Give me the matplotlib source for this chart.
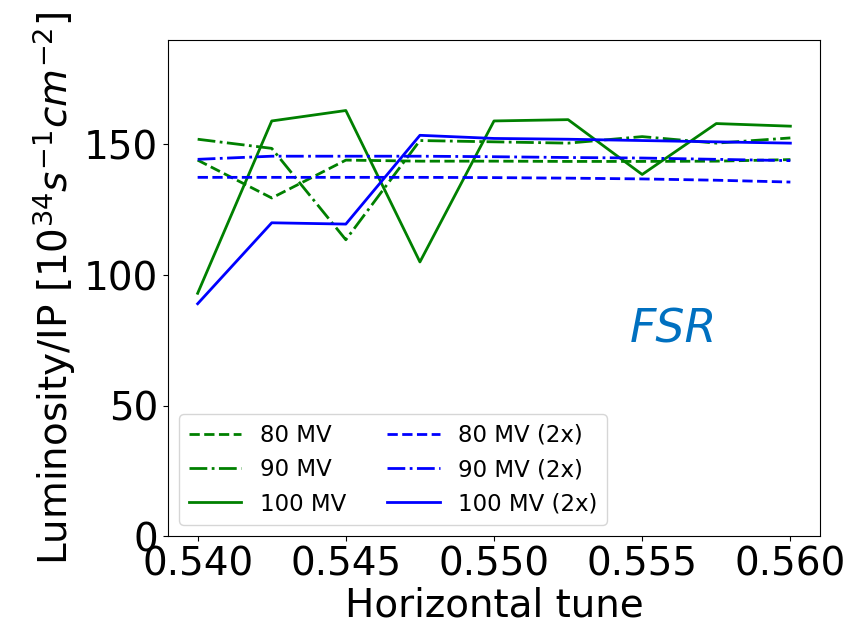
import numpy as np
import matplotlib.pyplot as plt

# tune scan
tune = [0.540, 0.5425, 0.545, 0.5475, 0.550, 0.5525, 0.555, 0.5575, 0.560]

# luminosity per IP [1e34 s^-1 cm^-2]
lumi_80 = [144, 129.5, 144, 143.6, 143.6, 143.5, 143.5, 143.6, 144.2]
lumi_90 = [152, 148.5, 113.5, 151.5, 151, 150.5, 153, 150.5, 152.5]
lumi_100 = [93, 159, 163, 105, 159, 159.5, 138.5, 158, 157]
lumi_80_2x = [137.4, 137.4, 137.4, 137.4, 137.3, 137.1, 136.8, 136.3, 135.6]
lumi_90_2x = [144.3, 145.5, 145.5, 145.5, 145.3, 145.0, 144.8, 144.3, 143.8]
lumi_100_2x = [89, 120, 119.5, 153.5, 152.3, 152, 151.5, 151, 150.5]

fig = plt.figure(figsize=(8.59, 6.3), dpi=100)
ax = fig.add_axes([0.1956, 0.149, 0.759, 0.7875])

ax.plot(tune, lumi_80, '--', color='green', lw=2, label='80 MV')
ax.plot(tune, lumi_90, '-.', color='green', lw=2, label='90 MV')
ax.plot(tune, lumi_100, '-', color='green', lw=2, label='100 MV')
ax.plot(tune, lumi_80_2x, '--', color='blue', lw=2, label='80 MV (2x)')
ax.plot(tune, lumi_90_2x, '-.', color='blue', lw=2, label='90 MV (2x)')
ax.plot(tune, lumi_100_2x, '-', color='blue', lw=2, label='100 MV (2x)')

ax.set_xlim(0.539, 0.561)
ax.set_ylim(0, 190)
ax.set_xticks([0.540, 0.545, 0.550, 0.555, 0.560])
ax.set_xticklabels(['0.540', '0.545', '0.550', '0.555', '0.560'])
ax.set_yticks([0, 50, 100, 150])
ax.tick_params(labelsize=28)

ax.set_xlabel('Horizontal tune', fontsize=28, labelpad=2)
ax.set_ylabel(r'Luminosity/IP [$10^{34}s^{-1}cm^{-2}$]', fontsize=28)

ax.text(0.55605, 79, 'FSR', fontsize=33, style='italic', color='#0070C0',
        ha='center', va='center')

ax.legend(loc='lower left', ncol=2, fontsize=16.5, handlelength=2.3,
          columnspacing=1.8, borderaxespad=0.5)

fig.savefig('out.png', dpi=100)
